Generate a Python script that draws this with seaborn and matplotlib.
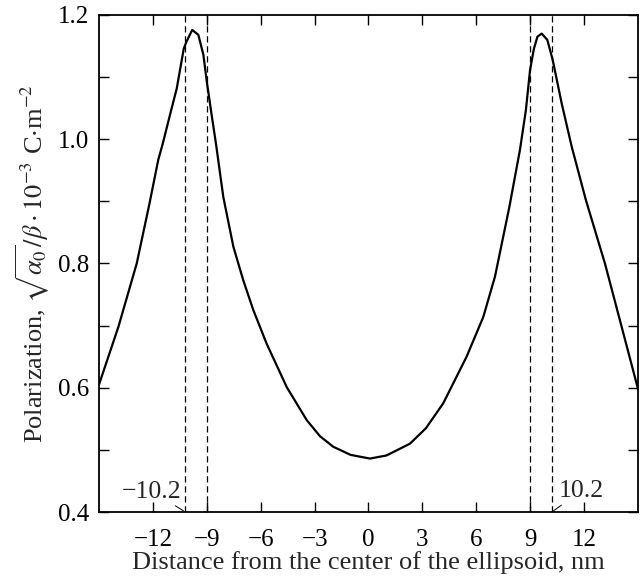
import numpy as np
import pandas as pd
import matplotlib
matplotlib.use("Agg")
import matplotlib.pyplot as plt
import seaborn as sns

distancia = [-15.0, -13.92, -12.9, -12.2, -11.7, -11.45, -11.05, -10.67, -10.28,
             -10.13, -9.81, -9.47, -9.19, -9.0, -8.73, -8.49, -8.08, -7.52, -6.97,
             -6.41, -5.67, -4.55, -3.44, -2.7, -1.96, -1.0, 0.08, 1.0, 2.31, 3.2,
             4.16, 5.46, 6.39, 7.04, 7.84, 8.43, 8.76, 8.99, 9.2, 9.4, 9.64, 9.95,
             10.25, 10.75, 11.31, 12.1, 13.16, 14.09, 15.0]
polarizacion = [0.605, 0.698, 0.800, 0.895, 0.967, 0.993, 1.039, 1.082, 1.146,
                1.157, 1.176, 1.168, 1.136, 1.093, 1.039, 0.993, 0.907, 0.827, 0.773,
                0.725, 0.671, 0.601, 0.548, 0.522, 0.505, 0.492, 0.486, 0.491, 0.510, 0.535,
                0.575, 0.650, 0.714, 0.779, 0.891, 0.983, 1.047, 1.111, 1.145, 1.165, 1.170, 1.160,
                1.128, 1.058, 0.988, 0.902, 0.800, 0.698, 0.598]

lineas_v = [-10.2, -9.0, 9.0, 10.2]
xticks = [-12, -9, -6, -3, 0, 3, 6, 9, 12]
yticks = [0.4, 0.5, 0.6, 0.7, 0.8, 0.9, 1.0, 1.1, 1.2]

df = pd.DataFrame({"x": distancia, "P": polarizacion})

sns.set_style("ticks")
plt.rcParams['font.family'] = ['Liberation Serif', 'DejaVu Serif']
plt.rcParams['mathtext.fontset'] = 'stix'

fig = plt.figure(figsize=(6.44, 5.76), dpi=100)
ax = fig.add_axes([0.1537, 0.1111, 0.8370, 0.8629])

sns.lineplot(data=df, x="x", y="P", sort=False, estimator=None,
             color="black", linewidth=1.6, ax=ax)

for xv in lineas_v:
    ax.axvline(xv, color="black", linewidth=0.9, linestyle=(0, (5, 3)))

ax.set_xlim(-15, 15)
ax.set_ylim(0.4, 1.2)
ax.set_xticks(xticks)
ax.set_xticklabels([f"{t}".replace("-", "\u2212") for t in xticks])
ax.set_yticks(yticks)
ax.set_yticklabels([f"{t:.1f}" if round(t * 10) % 2 == 0 else "" for t in yticks])
ax.tick_params(direction="in", length=7.5, width=1.0, top=True, right=True,
               labelsize=18, pad=7, colors="black")
ax.tick_params(axis="x", pad=12)
for s in ax.spines.values():
    s.set_linewidth(1.3)
    s.set_color("black")

ax.set_xlabel("Distance from the center of the ellipsoid, nm", fontsize=19, labelpad=0)
ax.set_ylabel(r"Polarization, $\sqrt{\alpha_0}/\beta\cdot10^{-3}$ C$\cdot$m$^{-2}$",
              fontsize=19, labelpad=4)

ax.annotate("\u221210.2", xy=(-10.3, 0.402), xytext=(-12.06, 0.433),
            ha="center", va="center", fontsize=18.5,
            arrowprops=dict(arrowstyle="-", color="black", linewidth=0.7,
                            shrinkA=10, shrinkB=0))
ax.annotate("10.2", xy=(10.25, 0.401), xytext=(11.86, 0.434),
            ha="center", va="center", fontsize=18.5,
            arrowprops=dict(arrowstyle="-", color="black", linewidth=0.7,
                            shrinkA=10, shrinkB=0))

plt.savefig("out.png", dpi=100)
plt.close()
